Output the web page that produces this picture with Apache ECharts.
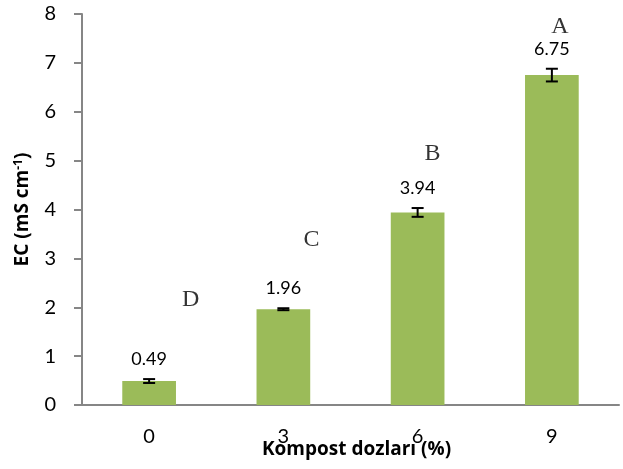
<!DOCTYPE html>
<html><head><meta charset="utf-8">
<script src="https://cdn.jsdelivr.net/npm/echarts@6/dist/echarts.min.js"></script>
<style>html,body{margin:0;padding:0;background:#fff}#c{width:623px;height:469px}</style>
</head><body><div id="c"></div>
<script>
const categories = ['0', '3', '6', '9'];
const ecValues = [0.49, 1.96, 3.94, 6.75];
const ecErrors = [0.04, 0.02, 0.09, 0.13];
const letters = ['D', 'C', 'B', 'A'];
const letterX = [0.31, 1.21, 2.11, 3.06];
const letterY = [2.15, 3.38, 5.15, 7.75];
const yTicks = [0, 1, 2, 3, 4, 5, 6, 7, 8];

const font = 'Lato, "Open Sans", sans-serif';
const titleFont = '"Open Sans", sans-serif';
const chart = echarts.init(document.getElementById('c'));
chart.setOption({
  animation: false,
  grid: { left: 82, right: 4, top: 14, bottom: 64, outerBoundsMode: 'none', containLabel: false },
  xAxis: [{
    type: 'category', data: categories,
    axisLine: { lineStyle: { color: '#868686', width: 2 } },
    axisTick: { show: false },
    axisLabel: { color: '#000', fontSize: 20, fontFamily: font, margin: 22 },
    name: 'Kompost dozları (%)', nameLocation: 'middle', nameGap: 35, nameMoveOverlap: false,
    nameTextStyle: { color: '#000', fontSize: 19, fontWeight: 'bold', fontFamily: titleFont, padding: [0, 0, 0, 12] }
  }, {
    type: 'value', min: -0.5, max: 3.5, show: false
  }],
  yAxis: {
    type: 'value', min: yTicks[0], max: yTicks[yTicks.length - 1], interval: 1,
    axisLine: { show: true, onZero: false, lineStyle: { color: '#868686', width: 2 } },
    axisTick: { show: true, length: 8, lineStyle: { color: '#868686', width: 2 } },
    splitLine: { show: false },
    axisLabel: { color: '#000', fontSize: 20, fontFamily: font, margin: 26 },
    name: '{b|EC (mS cm}{s|-1}{b|)}', nameLocation: 'middle', nameGap: 49, nameMoveOverlap: false,
    nameTextStyle: {
      rich: {
        b: { fontSize: 19, fontWeight: 'bold', fontFamily: titleFont, color: '#000' },
        s: { fontSize: 12, fontWeight: 'bold', fontFamily: titleFont, color: '#000', verticalAlign: 'top', padding: [0, 0, 8, 0] }
      }
    }
  },
  series: [{
    type: 'bar', data: ecValues, barWidth: '40%',
    itemStyle: { color: '#9BBB59' }
  }, {
    type: 'custom', xAxisIndex: 0,
    data: ecValues.map((v, i) => [i, v, ecErrors[i]]),
    renderItem: function (params, api) {
      const x = api.value(0), v = api.value(1), e = api.value(2);
      const top = api.coord([x, v + e]);
      const bot = api.coord([x, v - e]);
      const hw = 6;
      const st = { stroke: '#000', lineWidth: 2 };
      return {
        type: 'group', children: [
          { type: 'line', shape: { x1: top[0], y1: top[1], x2: bot[0], y2: bot[1] }, style: st },
          { type: 'line', shape: { x1: top[0] - hw, y1: top[1], x2: top[0] + hw, y2: top[1] }, style: st },
          { type: 'line', shape: { x1: bot[0] - hw, y1: bot[1], x2: bot[0] + hw, y2: bot[1] }, style: st },
          { type: 'text', style: { text: v.toFixed(2), x: top[0], y: top[1] - 11, align: 'center', verticalAlign: 'bottom', fontSize: 18, fontFamily: font, fill: '#000' } }
        ]
      };
    },
    z: 5
  }, {
    type: 'scatter', xAxisIndex: 1, symbolSize: 0,
    data: letters.map((l, i) => ({ value: [letterX[i], letterY[i]], name: l })),
    label: { show: true, position: 'inside', formatter: p => p.name, fontSize: 24, fontFamily: '"Liberation Serif", serif', color: '#000' }
  }]
});
</script></body></html>
